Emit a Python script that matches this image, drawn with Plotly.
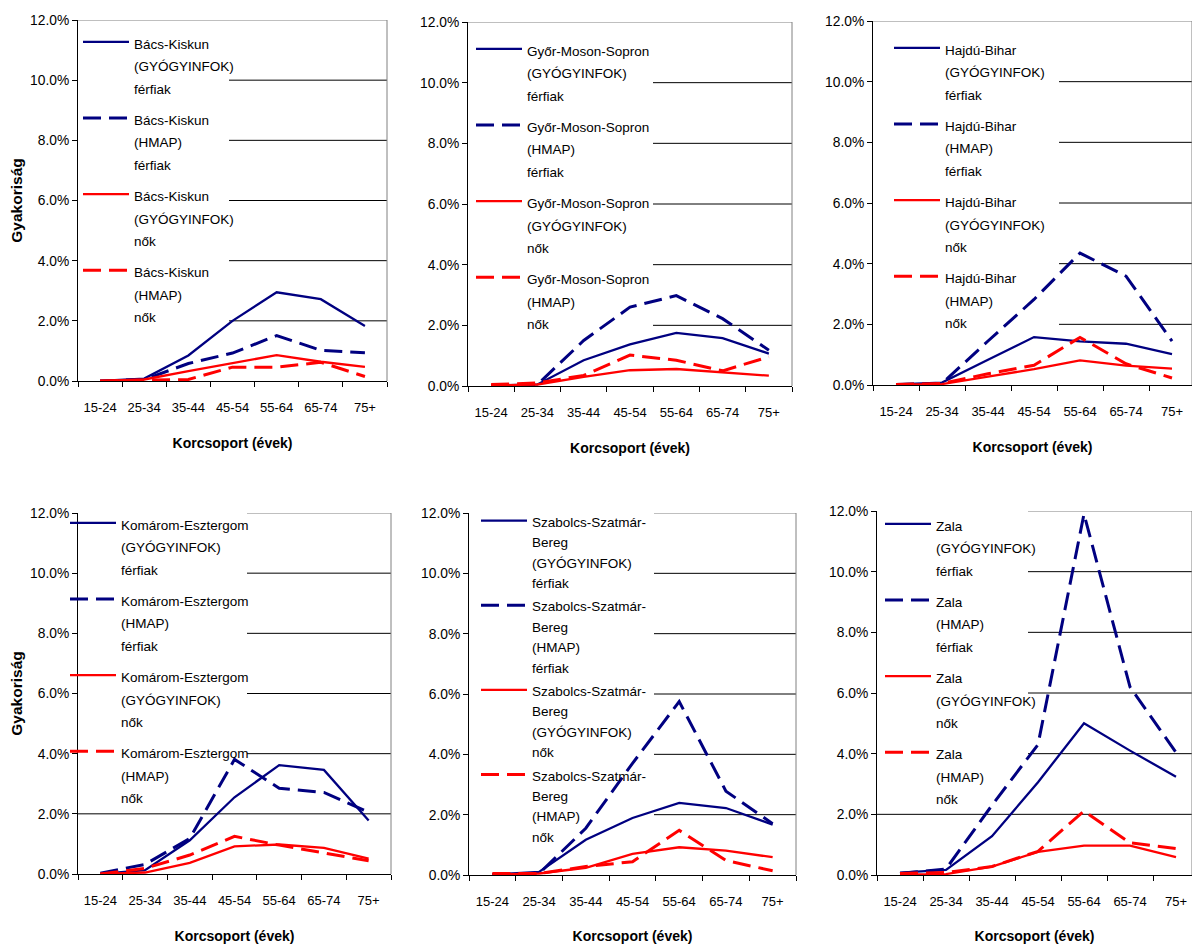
import plotly.graph_objects as go

# ---- data -----------------------------------------------------------------
age_groups = ["15-24", "25-34", "35-44", "45-54", "55-64", "65-74", "75+"]

counties = [
    "Bács-Kiskun",
    "Győr-Moson-Sopron",
    "Hajdú-Bihar",
    "Komárom-Esztergom",
    "Szabolcs-Szatmár-Bereg",
    "Zala",
]
# county names as wrapped in the legends
county_lines = [
    ["Bács-Kiskun"],
    ["Győr-Moson-Sopron"],
    ["Hajdú-Bihar"],
    ["Komárom-Esztergom"],
    ["Szabolcs-Szatmár-", "Bereg"],
    ["Zala"],
]

# prevalence (%) by age group: GYÓGYINFOK men, HMAP men, GYÓGYINFOK women, HMAP women
bacs_gy_ferfi = [0.0, 0.08, 0.85, 2.0, 2.95, 2.72, 1.83]
bacs_hmap_ferfi = [0.0, 0.05, 0.58, 0.93, 1.51, 1.02, 0.94]
bacs_gy_no = [0.0, 0.05, 0.33, 0.6, 0.86, 0.64, 0.47]
bacs_hmap_no = [0.0, 0.03, 0.05, 0.46, 0.46, 0.62, 0.15]

gyor_gy_ferfi = [0.02, 0.05, 0.85, 1.37, 1.75, 1.58, 1.07]
gyor_hmap_ferfi = [0.02, 0.05, 1.5, 2.6, 2.98, 2.22, 1.18]
gyor_gy_no = [0.02, 0.05, 0.3, 0.52, 0.56, 0.46, 0.34]
gyor_hmap_no = [0.05, 0.1, 0.35, 1.02, 0.85, 0.5, 0.96]

hajdu_gy_ferfi = [0.02, 0.08, 0.83, 1.58, 1.44, 1.36, 1.02]
hajdu_hmap_ferfi = [0.02, 0.05, 1.45, 2.82, 4.35, 3.59, 1.45]
hajdu_gy_no = [0.02, 0.03, 0.28, 0.52, 0.81, 0.64, 0.54]
hajdu_hmap_no = [0.02, 0.05, 0.37, 0.65, 1.57, 0.7, 0.23]

komarom_gy_ferfi = [0.0, 0.13, 1.12, 2.55, 3.62, 3.46, 1.78]
komarom_hmap_ferfi = [0.03, 0.32, 1.18, 3.81, 2.85, 2.71, 2.05]
komarom_gy_no = [0.0, 0.05, 0.37, 0.92, 0.98, 0.87, 0.51]
komarom_hmap_no = [0.0, 0.19, 0.63, 1.25, 0.96, 0.71, 0.44]

szabolcs_gy_ferfi = [0.02, 0.1, 1.17, 1.89, 2.39, 2.22, 1.67]
szabolcs_hmap_ferfi = [0.02, 0.05, 1.55, 3.7, 5.75, 2.78, 1.7]
szabolcs_gy_no = [0.02, 0.05, 0.24, 0.7, 0.92, 0.81, 0.59]
szabolcs_hmap_no = [0.05, 0.05, 0.28, 0.44, 1.48, 0.48, 0.14]

zala_gy_ferfi = [0.08, 0.17, 1.28, 3.06, 5.0, 4.1, 3.24]
zala_hmap_ferfi = [0.05, 0.2, 2.3, 4.3, 11.9, 6.2, 4.04]
zala_gy_no = [0.02, 0.03, 0.28, 0.76, 0.97, 0.97, 0.59]
zala_hmap_no = [0.05, 0.08, 0.28, 0.78, 2.11, 1.06, 0.87]

panel_series = [
    [bacs_gy_ferfi, bacs_hmap_ferfi, bacs_gy_no, bacs_hmap_no],
    [gyor_gy_ferfi, gyor_hmap_ferfi, gyor_gy_no, gyor_hmap_no],
    [hajdu_gy_ferfi, hajdu_hmap_ferfi, hajdu_gy_no, hajdu_hmap_no],
    [komarom_gy_ferfi, komarom_hmap_ferfi, komarom_gy_no, komarom_hmap_no],
    [szabolcs_gy_ferfi, szabolcs_hmap_ferfi, szabolcs_gy_no, szabolcs_hmap_no],
    [zala_gy_ferfi, zala_hmap_ferfi, zala_gy_no, zala_hmap_no],
]
series_source = ["(GYÓGYINFOK)", "(HMAP)", "(GYÓGYINFOK)", "(HMAP)"]
series_sex = ["férfiak", "férfiak", "nők", "nők"]

x_title = "Korcsoport (évek)"
y_title = "Gyakoriság"
y_max = 12
y_step = 2

# ---- styling -----------------------------------------------------------------
W, H = 1192, 944
NAVY = "#000080"
RED = "#FF0000"
FRAME = "#808080"
series_colors = [NAVY, NAVY, RED, RED]
series_dash = ["solid", "18px,8px", "solid", "18px,8px"]
series_width = [2.3, 3, 2.3, 3]

FONT = "Liberation Sans, Arial, sans-serif"
LEGEND_TEXT_PX = 13.5

# plot areas in pixels: left, right, top, bottom
areas = [
    (78, 387, 20, 381),
    (468, 792, 22, 386),
    (873, 1195, 21, 385),
    (78, 391, 513, 874),
    (469, 796, 513, 875),
    (877, 1199, 511, 875),
]
# legend placement: left px, top px, line height px, group gap px
legend_pos = [
    (78, 24, 22.7, 5),
    (471, 31, 22.7, 5),
    (889, 30, 22.7, 5),
    (65, 505, 22.7, 5),
    (476, 504, 20.4, 0),
    (880, 506, 22.7, 5),
]
# legend box (gridlines stop at its right edge): x right, y top, y bottom px
legend_box = [
    (229, 21, 335),
    (653, 23, 340),
    (1059, 22, 340),
    (247, 505, 808),
    (654, 505, 860),
    (1028, 505, 808),
]
show_y_title = [True, False, False, True, False, False]


def legend_label(lines):
    return "<br>".join(
        f'<span style="font-size:{LEGEND_TEXT_PX}px">{t}</span>' for t in lines
    )


fig = go.Figure()
layout = dict(
    width=W,
    height=H,
    autosize=False,
    margin=dict(l=0, r=0, t=0, b=0, autoexpand=False),
    paper_bgcolor="white",
    plot_bgcolor="white",
    showlegend=True,
    shapes=[],
)

for i, (county, series) in enumerate(zip(counties, panel_series)):
    n = "" if i == 0 else str(i + 1)
    xa, ya, lg = "x" + n, "y" + n, "legend" + n
    left, right, top, bottom = areas[i]
    cat_w = (right - left) / len(age_groups)
    x_end = min(right, W)
    x_max = 6.5 - (right - x_end) / cat_w

    for j, vals in enumerate(series):
        fig.add_trace(
            go.Scatter(
                x=age_groups,
                y=vals,
                mode="lines",
                name=legend_label(county_lines[i] + [series_source[j], series_sex[j]]),
                line=dict(color=series_colors[j], dash=series_dash[j], width=series_width[j]),
                xaxis=xa,
                yaxis=ya,
                legend=lg,
                legendgroup=f"{county}-{j}",
            )
        )

    layout["xaxis" + n] = dict(
        domain=[left / W, x_end / W],
        anchor=ya,
        type="category",
        categoryorder="array",
        categoryarray=age_groups,
        range=[-0.5, x_max],
        tickson="boundaries",
        ticks="outside",
        ticklen=5,
        tickcolor="black",
        tickangle=0,
        showline=True,
        linecolor="black",
        linewidth=1,
        showgrid=False,
        zeroline=False,
        automargin=False,
        tickfont=dict(family=FONT, size=13, color="black"),
        ticklabelstandoff=14,
        title=dict(
            text="<b>" + x_title + "</b>",
            font=dict(family=FONT, size=14, color="black"),
            standoff=24,
        ),
    )
    layout["yaxis" + n] = dict(
        domain=[1 - bottom / H, 1 - top / H],
        anchor=xa,
        range=[0, y_max],
        tick0=0,
        dtick=y_step,
        ticks="outside",
        ticklen=5,
        tickcolor="black",
        showline=True,
        linecolor="black",
        linewidth=1,
        showgrid=False,
        zeroline=False,
        automargin=False,
        ticksuffix="%",
        tickformat=".1f",
        tickfont=dict(family=FONT, size=13.8, color="black"),
        title=dict(
            text="<b>" + y_title + "</b>" if show_y_title[i] else "",
            font=dict(family=FONT, size=15.5, color="black"),
            standoff=3,
        ),
    )

    lx, ly, lh, gap = legend_pos[i]
    layout[lg] = dict(
        x=lx / W,
        y=1 - ly / H,
        xref="paper",
        yref="paper",
        xanchor="left",
        yanchor="top",
        bgcolor="rgba(0,0,0,0)",
        borderwidth=0,
        font=dict(family=FONT, size=lh / 1.3, color="black"),
        valign="top",
        itemwidth=46,
        traceorder="grouped",
        tracegroupgap=gap,
    )

    # horizontal gridlines; those passing behind the legend start at its right edge
    box_right, box_top, box_bottom = legend_box[i]
    legend_start = (box_right - left) / (x_end - left)
    for level in range(y_step, y_max + 1, y_step):
        level_px = bottom - level / y_max * (bottom - top)
        start = legend_start if box_top <= level_px <= box_bottom else 0
        layout["shapes"].append(
            dict(
                type="line",
                xref=xa + " domain",
                yref=ya,
                x0=start, x1=1, y0=level, y1=level,
                line=dict(color=FRAME if level == y_max else "black", width=1),
                layer="below",
            )
        )
    # grey right edge of the plot frame
    layout["shapes"].append(
        dict(
            type="line",
            xref=xa + " domain",
            yref=ya + " domain",
            x0=1, x1=1, y0=0, y1=1,
            line=dict(color=FRAME, width=1),
            layer="below",
        )
    )

fig.update_layout(**layout)
fig.write_html("out.html")
